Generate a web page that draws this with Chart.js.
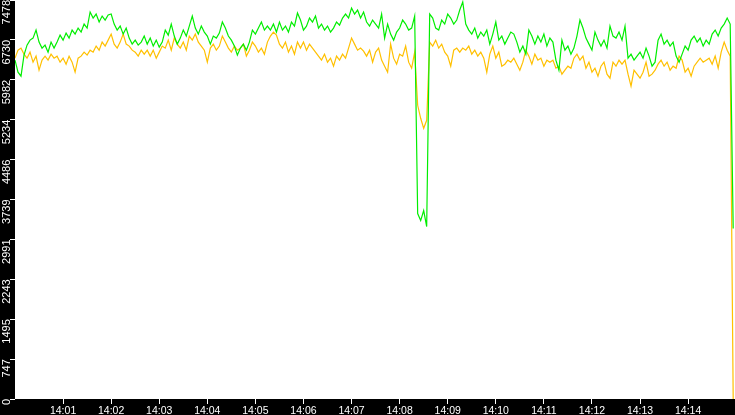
<!DOCTYPE html>
<html>
<head>
<meta charset="utf-8">
<title>Throughput 14:00 - 14:15</title>
<script src="https://cdn.jsdelivr.net/npm/chart.js@4"></script>
<style>
  html, body { margin: 0; padding: 0; background: #000; }
  #wrap { width: 735px; height: 415px; }
</style>
</head>
<body>
<div id="wrap"><canvas id="lineChart"></canvas></div>
<script>
// ===== DATA =====
// one sample every 3.75 s starting at 14:00:00
const sampleStep = 3.75;

const greenValues = [
  6351, 6125, 6050, 6445, 6632, 6726, 6764, 6914, 6689, 6576, 6632, 6501, 6689, 6576, 6689, 6820,
  6726, 6858, 6764, 6914, 6839, 6952, 6877, 7027, 6952, 7253, 7140, 7215, 7065, 7177, 7102, 7196,
  7215, 7027, 6914, 6989, 6839, 6952, 6764, 6651, 6726, 6632, 6689, 6802, 6651, 6764, 6614, 6726,
  6595, 6689, 6914, 6820, 7027, 6802, 6651, 6764, 6914, 6802, 6989, 7177, 6952, 6839, 6989, 6877,
  6802, 6651, 6802, 6764, 6858, 7065, 6952, 6802, 6726, 6614, 6445, 6576, 6651, 6538, 6689, 6914,
  6839, 6952, 7065, 6914, 6989, 6914, 7027, 6877, 7065, 6914, 6989, 6877, 7065, 6989, 7234, 7102,
  6914, 6989, 7140, 7065, 7177, 6952, 7027, 6914, 6989, 6877, 6952, 7065, 7008, 7140, 7215, 7140,
  7328, 7215, 7290, 7140, 7253, 7065, 6989, 7102, 7027, 6952, 7215, 6764, 7027, 6839, 6726, 6877,
  6952, 7102, 7027, 6914, 6952, 7177, 3476, 3344, 3532, 3231, 7215, 7140, 6952, 6914, 7102, 7027,
  7215, 7140, 7027, 7102, 7290, 7440, 7027, 6914, 6839, 6952, 6764, 6877, 6802, 6914, 6651, 6839,
  7065, 6726, 6802, 6651, 6764, 6877, 6839, 6689, 6501, 6614, 6463, 6914, 6802, 6651, 6802, 6689,
  6839, 6614, 6764, 6689, 6351, 6163, 6726, 6538, 6614, 6463, 6576, 6802, 7102, 6952, 6764, 6651,
  6538, 6877, 6726, 6614, 6726, 6576, 6989, 6802, 6764, 6877, 6726, 6989, 6388, 6463, 6351, 6426,
  6501, 6388, 6576, 6426, 6238, 6313, 6726, 6839, 6651, 6726, 6614, 6689, 6426, 6313, 6463, 6614,
  6538, 6726, 6802, 6689, 6764, 6614, 6726, 6651, 6839, 6914, 6802, 6952, 7027, 7140, 7027, 3194
];

const orangeValues = [
  6388, 6538, 6576, 6463, 6388, 6501, 6313, 6426, 6163, 6351, 6426, 6351, 6463, 6388, 6426, 6313,
  6388, 6275, 6426, 6313, 6125, 6388, 6426, 6501, 6445, 6538, 6501, 6614, 6538, 6689, 6614, 6726,
  6839, 6651, 6576, 6689, 6839, 6651, 6614, 6538, 6501, 6426, 6538, 6463, 6538, 6426, 6538, 6388,
  6501, 6614, 6576, 6726, 6538, 6764, 6651, 6576, 6689, 6538, 6802, 6726, 6839, 6689, 6614, 6538,
  6313, 6576, 6651, 6538, 6614, 6802, 6689, 6576, 6501, 6614, 6538, 6576, 6651, 6426, 6538, 6689,
  6614, 6501, 6576, 6463, 6689, 6802, 6877, 6820, 6651, 6576, 6689, 6501, 6614, 6463, 6689, 6576,
  6689, 6538, 6651, 6576, 6501, 6426, 6351, 6463, 6313, 6388, 6238, 6426, 6351, 6463, 6388, 6576,
  6764, 6651, 6538, 6576, 6520, 6426, 6538, 6313, 6501, 6576, 6351, 6238, 6125, 6651, 6388, 6275,
  6463, 6426, 6614, 6313, 6200, 6501, 5505, 5261, 5073, 5223, 6689, 6614, 6726, 6576, 6651, 6501,
  6426, 6238, 6538, 6576, 6501, 6576, 6538, 6614, 6463, 6538, 6426, 6501, 6388, 6125, 6463, 6614,
  6388, 6501, 6238, 6275, 6351, 6313, 6388, 6275, 6163, 6313, 6538, 6426, 6275, 6463, 6351, 6388,
  6238, 6351, 6313, 6351, 6200, 6238, 6088, 6163, 6238, 6200, 6388, 6463, 6351, 6426, 6200, 6313,
  6125, 6200, 6050, 6238, 6313, 6088, 6012, 6313, 6238, 6351, 6275, 6351, 6088, 5862, 6163, 6088,
  6012, 6125, 6313, 6050, 6088, 6163, 6275, 6351, 6238, 6313, 6163, 6238, 6200, 6426, 6351, 6125,
  6200, 6050, 6238, 6313, 6388, 6313, 6351, 6388, 6275, 6426, 6200, 6501, 6689, 6538, 6426, 0
];

// axis ticks
const yTicks = [0, 747, 1495, 2243, 2991, 3739, 4486, 5234, 5982, 6730, 7478];
const xTickSeconds = [60, 120, 180, 240, 300, 360, 420, 480, 540, 600, 660, 720, 780, 840];
const xTickLabels = ['14:01', '14:02', '14:03', '14:04', '14:05', '14:06', '14:07',
                     '14:08', '14:09', '14:10', '14:11', '14:12', '14:13', '14:14'];

// ===== CHART DATA =====
const toPoints = (values) => values.map((v, i) => ({ x: i * sampleStep, y: v }));

const data = {
  datasets: [
    {
      label: 'green',
      data: toPoints(greenValues),
      borderColor: '#00ee00',
      borderWidth: 1.2,
      pointRadius: 0,
      tension: 0
    },
    {
      label: 'orange',
      data: toPoints(orangeValues),
      borderColor: '#ffc000',
      borderWidth: 1.2,
      pointRadius: 0,
      tension: 0
    }
  ]
};

// paints the black frame and the white plot area
const backdrop = {
  id: 'backdrop',
  beforeDraw(chart) {
    const { ctx, chartArea: a } = chart;
    ctx.save();
    ctx.fillStyle = '#000';
    ctx.fillRect(0, 0, chart.width, chart.height);
    ctx.fillStyle = '#fff';
    ctx.fillRect(a.left, a.top, a.right - a.left, a.bottom - a.top);
    ctx.restore();
  }
};

// ===== CHART CONFIG =====
const config = {
  type: 'line',
  data,
  plugins: [backdrop],
  options: {
    responsive: true,
    maintainAspectRatio: false,
    animation: false,
    layout: { padding: 0 },
    plugins: {
      legend: { display: false },
      tooltip: { enabled: false }
    },
    scales: {
      x: {
        type: 'linear',
        min: 0,
        max: 898.5,
        border: { display: false },
        grid: { drawOnChartArea: false, drawTicks: true, tickLength: 5, tickColor: '#fff' },
        afterBuildTicks: (scale) => { scale.ticks = xTickSeconds.map(v => ({ value: v })); },
        afterFit: (scale) => {
          scale.height = 16;
          scale.paddingLeft = 0;
          scale.paddingRight = 0;
        },
        ticks: {
          color: '#fff',
          padding: 1,
          maxRotation: 0,
          autoSkip: false,
          font: { family: 'Liberation Sans', size: 10.5 },
          callback: (v) => xTickLabels[xTickSeconds.indexOf(v)]
        }
      },
      y: {
        min: 0,
        max: 7478,
        border: { display: false },
        grid: { drawOnChartArea: false, drawTicks: true, tickLength: 5, tickColor: '#fff' },
        afterBuildTicks: (scale) => { scale.ticks = yTicks.map(v => ({ value: v })); },
        afterFit: (scale) => {
          scale.width = 15;
          scale.paddingTop = 0;
          scale.paddingBottom = 0;
        },
        ticks: {
          color: '#fff',
          padding: 3,
          minRotation: 90,
          maxRotation: 90,
          autoSkip: false,
          font: { family: 'Liberation Sans', size: 11 },
          callback: (v) => String(v)
        }
      }
    }
  }
};

// ===== INIT =====
new Chart(document.getElementById('lineChart'), config);
</script>
</body>
</html>
